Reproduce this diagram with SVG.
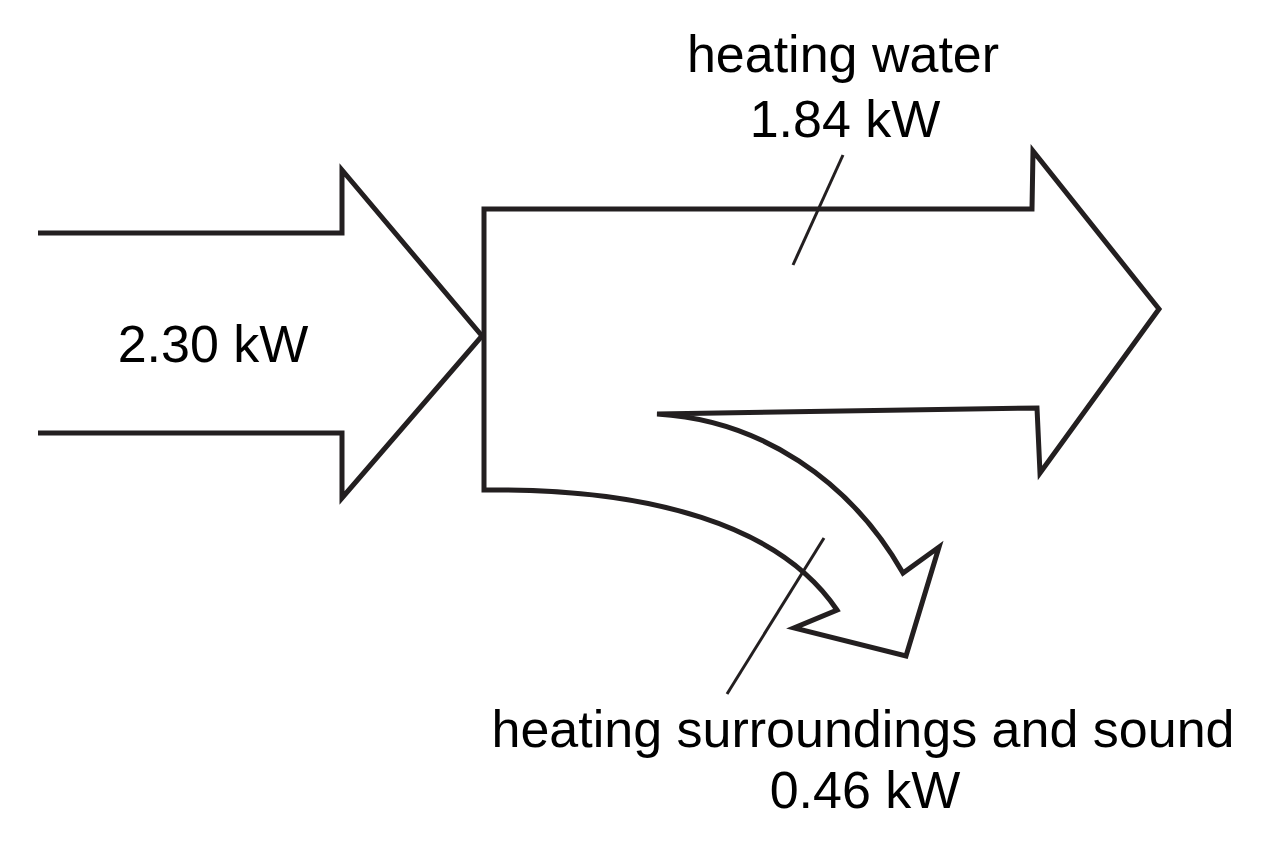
<svg xmlns="http://www.w3.org/2000/svg" width="1264" height="848" viewBox="0 0 1264 848">
<style>
.flow{fill:none;stroke:#231f20;stroke-width:5;stroke-linejoin:miter;stroke-miterlimit:10}
.lead{fill:none;stroke:#231f20;stroke-width:3}
.lbl{font-family:"Liberation Sans",Arial,sans-serif;font-size:52px;fill:#000;text-anchor:middle}
</style>
<rect width="1264" height="848" fill="#fff"/>
<g id="input">
<path class="flow" d="M38,233 L342,233 L342,170 L482,336 L342,498 L342,433 L38,433"/>
<text class="lbl" x="213" y="362">2.30 kW</text>
</g>
<g id="split">
<path class="flow" d="M484,209 L1032,209 L1033,151 L1159,309 L1040,473 L1037,408 L657,414 C760,420 850,480 903,573 L939,547 L906,656 L794,628 L837,610 C780,525 650,488 484,490 Z"/>
</g>
<g id="connectors">
<line class="lead" x1="843" y1="155" x2="793" y2="265"/>
<line class="lead" x1="824" y1="538" x2="727" y2="694"/>
</g>
<g id="water-label">
<text class="lbl" x="843" y="72">heating water</text>
<text class="lbl" x="845" y="137">1.84 kW</text>
</g>
<g id="surroundings-label">
<text class="lbl" x="863" y="747">heating surroundings and sound</text>
<text class="lbl" x="865" y="808">0.46 kW</text>
</g>
</svg>
